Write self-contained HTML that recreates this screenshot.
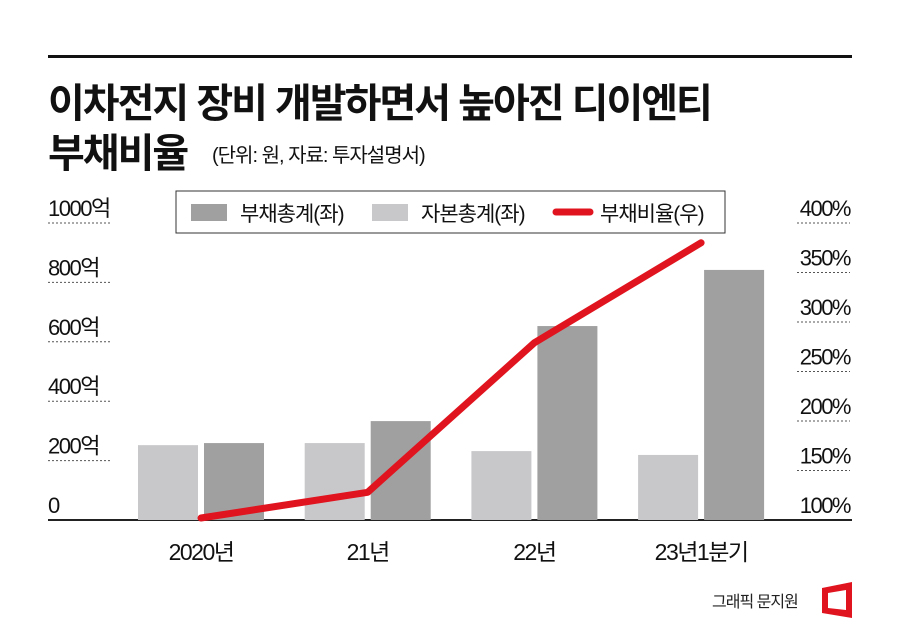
<!DOCTYPE html>
<html><head><meta charset="utf-8"><style>
body{margin:0;background:#fff;width:900px;height:625px;overflow:hidden;font-family:"Liberation Sans","Noto Sans CJK KR",sans-serif;}
svg text{font-family:"Liberation Sans","Noto Sans CJK KR",sans-serif;}
</style></head><body>
<svg width="900" height="625" viewBox="0 0 900 625">
<rect x="48" y="55" width="804" height="3" fill="#111"/>
<text x="48" y="117" font-size="40" font-weight="bold" fill="#111" letter-spacing="-2">이차전지 장비 개발하면서 높아진 디이엔티</text>
<text x="48" y="167" font-size="40" font-weight="bold" fill="#111" letter-spacing="-2">부채비율</text>
<text x="212" y="162" font-size="20" fill="#111" letter-spacing="-1">(단위: 원, 자료: 투자설명서)</text>
<g id="axes"></g>
<g id="bars"></g>
<g id="line"></g>
<g>
<rect x="176" y="191" width="549" height="42" fill="#fff" stroke="#333" stroke-width="1"/>
<rect x="191" y="204" width="36" height="17" fill="#a0a0a0"/>
<text x="240" y="221" font-size="21" fill="#111" letter-spacing="-1">부채총계(좌)</text>
<rect x="372" y="204" width="36" height="17" fill="#c8c8ca"/>
<text x="421" y="221" font-size="21" fill="#111" letter-spacing="-1">자본총계(좌)</text>
<line x1="556" y1="212" x2="590" y2="212" stroke="#e0141e" stroke-width="7" stroke-linecap="round"/>
<text x="600" y="221" font-size="21" fill="#111" letter-spacing="-1">부채비율(우)</text>
</g>
<text x="712" y="607" font-size="16" fill="#222" letter-spacing="-1">그래픽 문지원</text>
<path d="M822 588 L852 582 L852 618 L822 613 Z M828 593 L846 590 L846 610 L828 608 Z" fill="#e0141e" fill-rule="evenodd"/>
</svg>
<script>
const categories=["2020년","21년","22년","23년1분기"];
const equity=[252,259,232,219];
const debt=[259,333,653,842];
const ratio=[102,128,279,380];
const leftTicks=[0,200,400,600,800,1000];
const rightTicks=[100,150,200,250,300,350,400];
const NS="http://www.w3.org/2000/svg";
const base=520, plotTop=223;
const yL=v=>base-(v/1000)*(base-plotTop);
const yR=v=>base-((v-100)/300)*(base-plotTop);
const xC=i=>201+i*166.7;
function mk(tag,attrs,parent){const e=document.createElementNS(NS,tag);for(const k in attrs)e.setAttribute(k,attrs[k]);document.getElementById(parent).appendChild(e);return e;}
leftTicks.forEach(v=>{
 const y=yL(v);
 const t=mk("text",{x:48,y:y-7,"font-size":22,fill:"#111","letter-spacing":-1.5},"axes");t.textContent=v===0?"0":v+"억";
 
 
 if(v>0){const l=mk("line",{x1:48,x2:110,y1:y,y2:y,stroke:"#555","stroke-dasharray":"2,2","stroke-width":1},"axes");
 
 }
});
rightTicks.forEach(v=>{
 const y=yR(v);
 const t=mk("text",{x:850,y:y-7,"font-size":22,fill:"#111","text-anchor":"end","letter-spacing":-1.5},"axes");t.textContent=v+"%";
 
 
 if(v>100){const l=mk("line",{x1:797,x2:850,y1:y,y2:y,stroke:"#555","stroke-dasharray":"2,2","stroke-width":1},"axes");
 
 }
});
categories.forEach((c,i)=>{
 const x=xC(i);
 const b1=mk("rect",{x:x-63,y:yL(equity[i]),width:60,height:base-yL(equity[i]),fill:"#c8c8ca"},"bars");
 
 
 const b2=mk("rect",{x:x+3,y:yL(debt[i]),width:60,height:base-yL(debt[i]),fill:"#a0a0a0"},"bars");
 
 
 const t=mk("text",{x:x,y:560,"font-size":23,fill:"#111","text-anchor":"middle","letter-spacing":-1.5},"axes");t.textContent=c;
 
 
});
const ax=mk("line",{x1:48,x2:852,y1:base,y2:base,stroke:"#222","stroke-width":2},"axes");


const pts=ratio.map((v,i)=>xC(i)+","+yR(v)).join(" ");
const pl=mk("polyline",{points:pts,fill:"none",stroke:"#e0141e","stroke-width":7,"stroke-linecap":"round","stroke-linejoin":"round"},"line");


</script>
</body></html>
